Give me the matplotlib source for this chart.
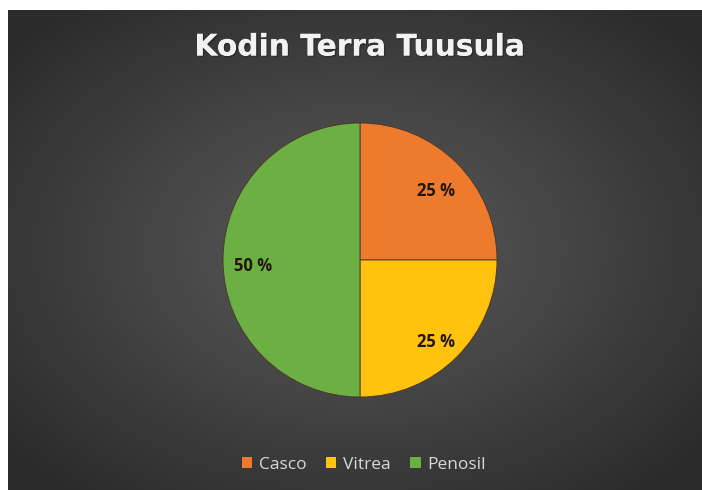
import numpy as np
import matplotlib
matplotlib.use("Agg")
import matplotlib.pyplot as plt
import matplotlib.patheffects as pe
from matplotlib.patches import Rectangle

plt.rcParams['font.family'] = ['Open Sans', 'DejaVu Sans']

# data
labels = ["Casco", "Vitrea", "Penosil"]
shares = [25, 25, 50]
colors = ["#EE7A2E", "#FFC20E", "#6CB044"]
title = "Kodin Terra Tuusula"

W, H = 702, 490
fig = plt.figure(figsize=(W / 100, H / 100), dpi=100)
fig.patch.set_facecolor("white")

# dark background with radial gradient (chart area starts a few px in)
bg = fig.add_axes([8 / W, 0, 1 - 8 / W, 1 - 10 / H])
yy, xx = np.mgrid[0:1:300j, 0:1:400j]
d = np.sqrt(((xx - 0.5) / 0.75) ** 2 + ((yy - 0.5) / 0.75) ** 2)
shade = np.clip(0.36 - 0.22 * d, 0.17, 0.36)
bg.imshow(np.dstack([shade, shade, shade]), aspect="auto", extent=[0, 1, 0, 1])
bg.set_axis_off()

# pie
cx, cy, r = 360, 260, 137
ax = fig.add_axes([(cx - r) / W, (H - cy - r) / H, 2 * r / W, 2 * r / H])
ax.set_facecolor("none")
wedges, _, autotexts = ax.pie(
    shares, colors=colors, startangle=90, counterclock=False,
    autopct=lambda p: f"{p:.0f} %", pctdistance=0.78,
    wedgeprops=dict(linewidth=0.6, edgecolor="#4a3522"),
    textprops=dict(fontsize=12, fontweight="bold", color="#21160c"),
)
for t in autotexts:
    x, y = t.get_position()
    t.set_position((x, y - 0.045))
ax.set_aspect("equal")
ax.set_xlim(-1, 1)
ax.set_ylim(-1, 1)

fig.text(cx / W, 1 - 47 / H, title, ha="center", va="center",
         fontsize=21.4, fontweight="bold", color="#f2f2f2", family="DejaVu Sans",
         path_effects=[pe.withSimplePatchShadow(offset=(1, -1), shadow_rgbFace="black", alpha=0.25),
                       pe.Normal()])

# legend
handles = [Rectangle((0, 0), 1, 1, facecolor=c, edgecolor="none") for c in colors]
leg = fig.legend(handles, labels, loc="center", bbox_to_anchor=(364 / W, 1 - 465 / H),
                 ncol=3, frameon=False, fontsize=12.5, handlelength=0.6,
                 handleheight=0.6, handletextpad=0.4, columnspacing=1.1)
for t in leg.get_texts():
    t.set_color("#d9d9d9")

fig.savefig("out.png", dpi=100)
